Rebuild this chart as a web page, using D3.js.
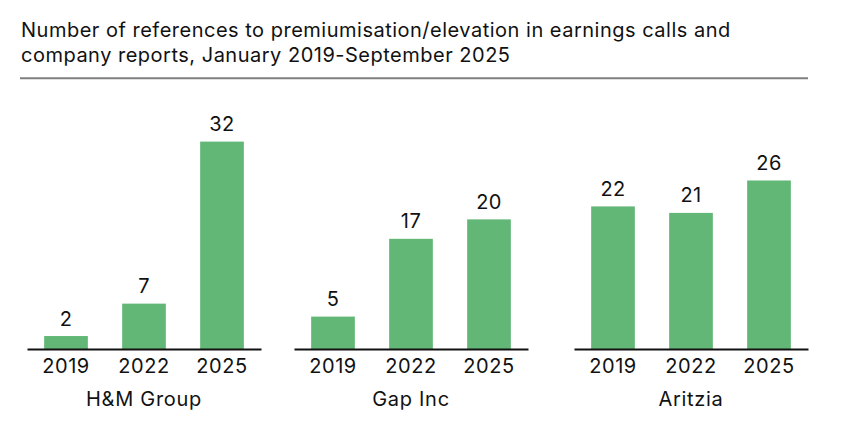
<!doctype html>
<html>
    <head>
        <script src="https://d3js.org/d3.v7.min.js"></script>
        <style>
            body { margin: 0; background: #fff; }
            svg text { font-family: Inter, "Noto Sans", sans-serif; fill: #111; }
        </style>
    </head>
    <body>
        <svg id="chart" width="848" height="442"></svg>

        <script>
            var companies = ['H&M Group', 'Gap Inc', 'Aritzia'];
            var years = ['2019', '2022', '2025'];
            var hm = [2, 7, 32];
            var gap = [5, 17, 20];
            var aritzia = [22, 21, 26];
            var series = [hm, gap, aritzia];

            var titleLines = [
                'Number of references to premiumisation/elevation in earnings calls and',
                'company reports, January 2019-September 2025'
            ];

            var svg = d3.select('#chart');

            // title + rule
            svg.selectAll('text.title')
                .data(titleLines)
                .enter()
                .append('text')
                    .attr('class', 'title')
                    .attr('x', 21)
                    .attr('y', (d, i) => 37 + i * 25)
                    .style('font-size', '20px')
                    .style('letter-spacing', '0.5px')
                    .text(d => d);

            svg.append('line')
                .attr('x1', 20).attr('x2', 808)
                .attr('y1', 78.3).attr('y2', 78.3)
                .style('stroke', '#7f7f7f')
                .style('stroke-width', 2);

            // panel layout
            var panelLeft = [27, 294, 574];
            var panelWidth = 234;
            var baseY = 349;

            var yScale = d3.scaleLinear().domain([0, 32]).range([baseY, baseY - 207.4]);
            var xScale = d3.scaleBand().domain(years).range([0, panelWidth])
                .paddingInner(0.44).paddingOuter(0.22);

            companies.forEach(function (name, ci) {
                var g = svg.append('g').attr('transform', 'translate(' + panelLeft[ci] + ',0)');
                var data = years.map((y, i) => ({ year: y, value: series[ci][i] }));

                g.selectAll('rect.bar')
                    .data(data)
                    .enter()
                    .append('rect')
                        .attr('class', 'bar')
                        .attr('x', d => xScale(d.year))
                        .attr('width', xScale.bandwidth())
                        .attr('y', d => yScale(d.value))
                        .attr('height', d => baseY - yScale(d.value))
                        .style('fill', '#62b777');

                g.selectAll('text.value')
                    .data(data)
                    .enter()
                    .append('text')
                        .attr('class', 'value')
                        .attr('x', d => xScale(d.year) + xScale.bandwidth() / 2)
                        .attr('y', d => yScale(d.value) - 10.5)
                        .attr('text-anchor', 'middle')
                        .style('font-size', '20px')
                        .style('letter-spacing', '0.4px')
                        .text(d => d.value);

                var xAxis = d3.axisBottom(xScale).tickSize(0).tickPadding(10);
                var ax = g.append('g')
                    .attr('transform', 'translate(0,' + baseY + ')')
                    .call(xAxis);
                ax.select('path.domain').style('stroke', '#111').style('stroke-width', 2);
                ax.selectAll('text')
                    .style('font-size', '20px')
                    .style('font-family', 'Inter, "Noto Sans", sans-serif')
                    .style('letter-spacing', '0.6px')
                    .attr('dy', '0.71em')
                    .style('fill', '#111');

                g.append('text')
                    .attr('x', panelWidth / 2)
                    .attr('y', 406)
                    .attr('text-anchor', 'middle')
                    .style('font-size', '20px')
                    .style('letter-spacing', '0.7px')
                    .text(name);
            });
        </script>
    </body>
</html>
